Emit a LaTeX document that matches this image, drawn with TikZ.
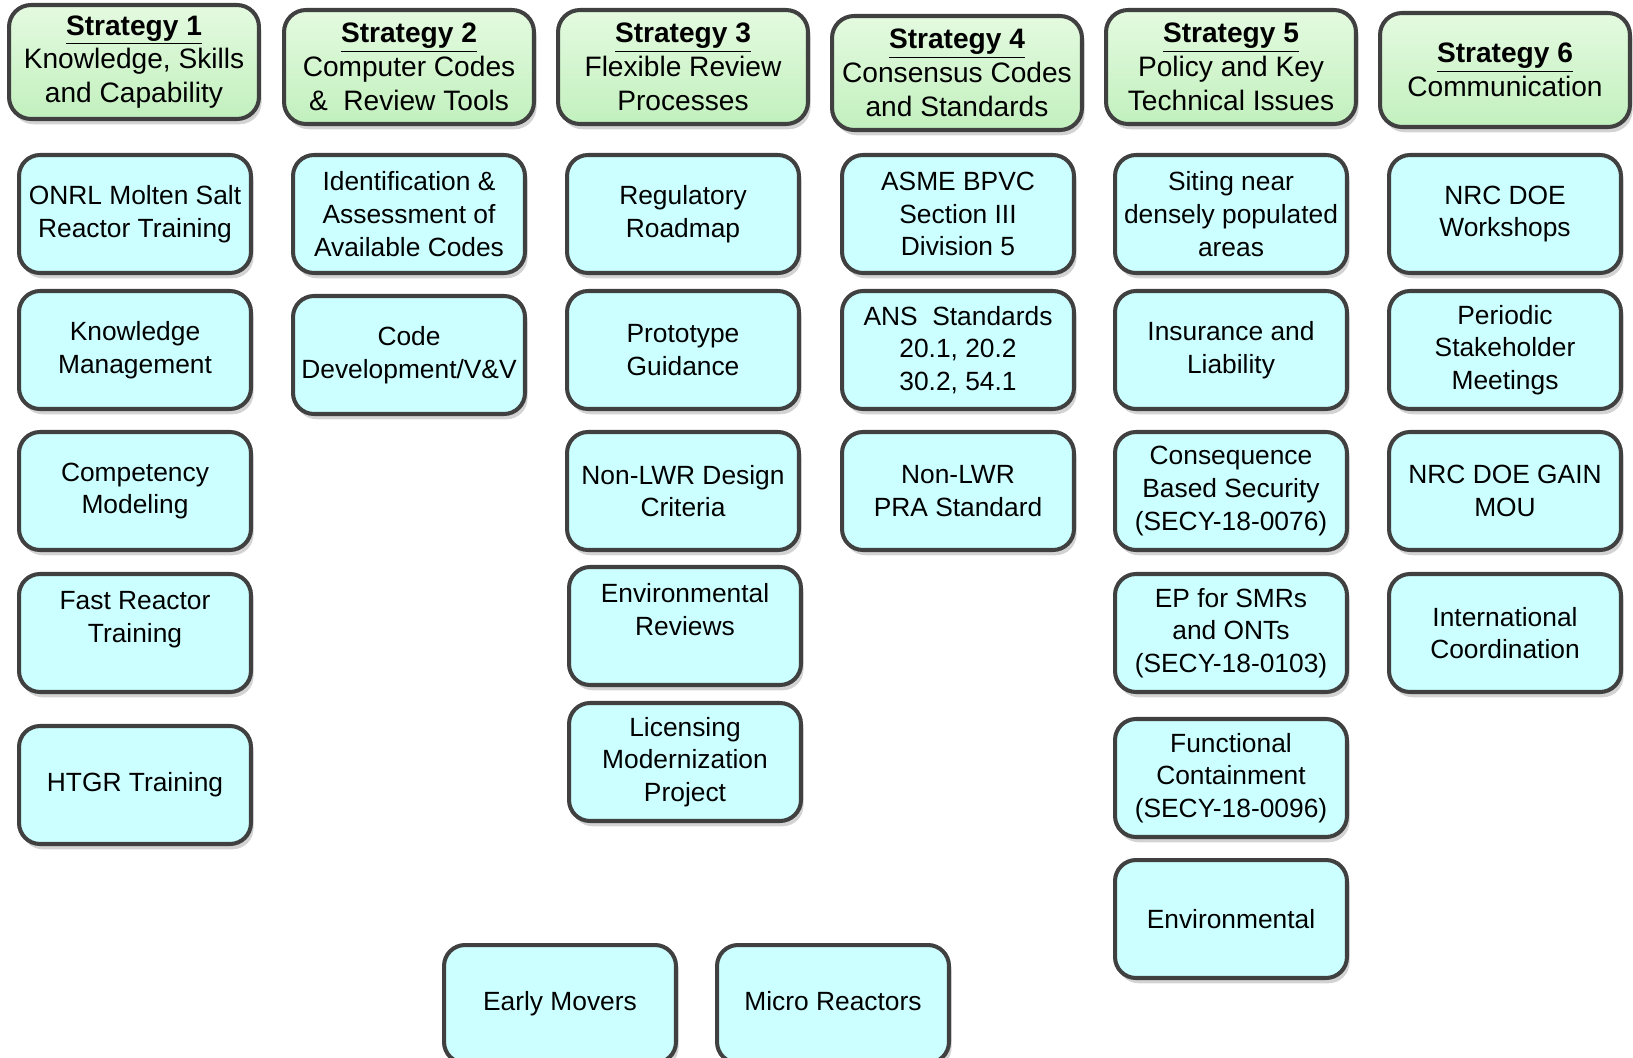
\documentclass[tikz,border=0pt]{standalone}
\usepackage{fontspec}
\setmainfont{Liberation Sans}
\usetikzlibrary{shadows}

\definecolor{boxfill}{RGB}{204,255,255}
\definecolor{boxline}{RGB}{64,64,64}
\definecolor{hdrtop}{RGB}{228,250,224}
\definecolor{hdrbot}{RGB}{194,240,190}

\begin{document}
\begin{tikzpicture}[x=0.02cm, y=-0.02cm,
        header/.style={draw=boxline, line width=2.3pt, rounded corners=0.44cm,
            top color=hdrtop, bottom color=hdrbot,
            minimum width=5.0cm, minimum height=2.28cm, inner sep=0pt, align=center,
            font=\fontsize{16}{19.2}\selectfont,
            drop shadow={shadow xshift=1.5pt, shadow yshift=-3pt, opacity=0.35}},
        task/.style={draw=boxline, line width=2.3pt, rounded corners=0.42cm,
            fill=boxfill,
            minimum width=4.64cm, minimum height=2.36cm, inner sep=0pt, align=center,
            font=\fontsize{15}{18.6}\selectfont,
            drop shadow={shadow xshift=1.5pt, shadow yshift=-3pt, opacity=0.35}}]
    \useasboundingbox (0,0) rectangle (1633,1058);

    % Strategy headers
    \node[header] (s1) at (134,62) {\underline{\textbf{Strategy 1}}\\Knowledge, Skills\\and Capability};
    \node[header] (s2) at (409,67) {\underline{\textbf{Strategy 2}}\\Computer Codes\\\&\ \ Review Tools};
    \node[header] (s3) at (683,67) {\underline{\textbf{Strategy 3}}\\Flexible Review\\Processes};
    \node[header] (s4) at (957,73) {\underline{\textbf{Strategy 4}}\\Consensus Codes\\and Standards};
    \node[header] (s5) at (1231,67) {\underline{\textbf{Strategy 5}}\\Policy and Key\\Technical Issues};
    \node[header] (s6) at (1505,70) {\underline{\textbf{Strategy 6}}\\Communication};

    % Strategy 1
    \node[task] (onrl) at (135,214) {ONRL Molten Salt\\Reactor Training};
    \node[task] (knowmgmt) at (135,350) {Knowledge\\Management};
    \node[task] (competency) at (135,491) {Competency\\Modeling};
    \node[task] (fastrx) at (135,633) {Fast Reactor\\Training\\\mbox{}};
    \node[task] (htgr) at (135,785) {HTGR Training};

    % Strategy 2
    \node[task] (idcodes) at (409,214) {Identification \&\\Assessment of\\Available Codes};
    \node[task] (codedev) at (409,355) {Code\\Development/V\&V};

    % Strategy 3
    \node[task] (roadmap) at (683,214) {Regulatory\\Roadmap};
    \node[task] (prototype) at (683,350) {Prototype\\Guidance};
    \node[task] (nonlwrdc) at (683,491) {Non-LWR Design\\Criteria};
    \node[task] (envrev) at (685,626) {Environmental\\Reviews\\\mbox{}};
    \node[task] (lmp) at (685,762) {Licensing\\Modernization\\Project};

    % Strategy 4
    \node[task] (asme) at (958,214) {ASME BPVC\\Section III\\Division 5};
    \node[task] (ans) at (958,350) {ANS\ \ Standards\\20.1, 20.2\\30.2, 54.1};
    \node[task] (pra) at (958,491) {Non-LWR\\PRA Standard};

    % Strategy 5
    \node[task] (siting) at (1231,214) {Siting near\\densely populated\\areas};
    \node[task] (insurance) at (1231,350) {Insurance and\\Liability};
    \node[task] (cbsecurity) at (1231,491) {Consequence\\Based Security\\(SECY-18-0076)};
    \node[task] (epsmr) at (1231,633) {EP for SMRs\\and ONTs\\(SECY-18-0103)};
    \node[task] (funccont) at (1231,778) {Functional\\Containment\\(SECY-18-0096)};
    \node[task] (environ) at (1231,919) {Environmental};

    % Strategy 6
    \node[task] (workshops) at (1505,214) {NRC DOE\\Workshops};
    \node[task] (stakeholder) at (1505,350) {Periodic\\Stakeholder\\Meetings};
    \node[task] (gainmou) at (1505,491) {NRC DOE GAIN\\MOU};
    \node[task] (intl) at (1505,633) {International\\Coordination};

    % Bottom row
    \node[task] (early) at (560,1004) {\strut Early Movers};
    \node[task] (micro) at (833,1004) {\strut Micro Reactors};
\end{tikzpicture}
\end{document}
